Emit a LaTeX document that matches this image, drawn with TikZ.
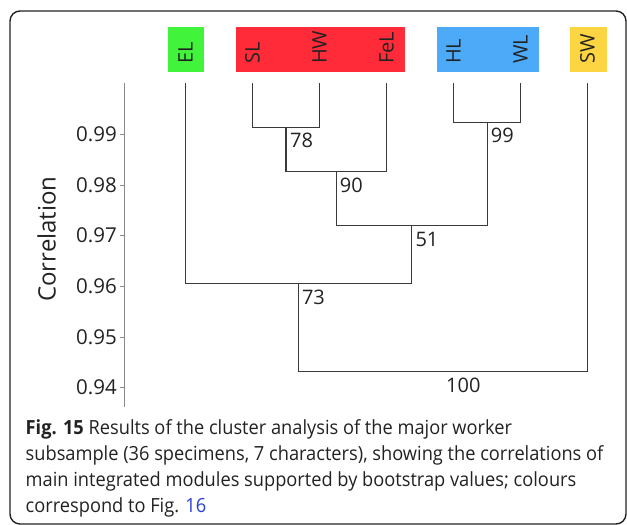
\documentclass[tikz,border=0pt]{standalone}
\usepackage{fontspec}
\setmainfont{Open Sans}
\newfontfamily\capfont[FakeStretch=0.935]{Open Sans}
\definecolor{elgreen}{HTML}{41F43B}
\definecolor{modred}{HTML}{FF2B38}
\definecolor{modblue}{HTML}{4DAAF8}
\definecolor{modyellow}{HTML}{FDD542}
\definecolor{linkblue}{HTML}{2A3FD8}
\definecolor{treegray}{HTML}{3A3A3A}
\definecolor{axisgray}{HTML}{8A8A8A}
\definecolor{txt}{HTML}{222222}
\begin{document}
\begin{tikzpicture}[x=1pt,y=-1pt,
  tree/.style={draw=treegray, line width=1.2pt},
  axisline/.style={draw=axisgray, line width=1pt},
  modbox/.style={draw=none, inner sep=0pt, minimum height=45pt},
  leaflbl/.style={rotate=90, anchor=west, inner sep=0pt, text=txt, font=\fontsize{20}{24}\selectfont},
  ticklbl/.style={anchor=east, inner sep=0pt, text=txt, font=\fontsize{20.5}{24}\selectfont},
  bootlbl/.style={anchor=north west, inner sep=0pt, text=txt, font=\fontsize{20}{24}\selectfont},
  caplbl/.style={anchor=base west, inner sep=0pt, text=txt, font=\capfont\fontsize{19.5}{26}\selectfont},
  frame/.style={draw=txt, line width=1.4pt, rounded corners=10pt}
]
\useasboundingbox (0,0) rectangle (627,525);
\draw[frame] (10,11) rectangle (626,524);

% coloured module boxes
\node[modbox, fill=elgreen, minimum width=36.4pt] (bEL) at (185.8,49.2) {};
\node[modbox, fill=modred, minimum width=168.4pt] (bRed) at (320.6,49.2) {};
\node[modbox, fill=modblue, minimum width=102pt] (bBlue) at (488,49.2) {};
\node[modbox, fill=modyellow, minimum width=37.8pt] (bSW) at (588.4,49.2) {};

\node[leaflbl] (tEL) at (185.5,64) {EL};
\node[leaflbl] (tSL) at (252.5,64) {SL};
\node[leaflbl] (tHW) at (319.5,64) {HW};
\node[leaflbl] (tFeL) at (386.5,64) {FeL};
\node[leaflbl] (tHL) at (453.5,64) {HL};
\node[leaflbl] (tWL) at (520.5,64) {WL};
\node[leaflbl] (tSW) at (587.5,64) {SW};

% axis
\coordinate (axtop) at (124,83);
\coordinate (axbot) at (124,407);
\draw[axisline] (axtop) -- (axbot);
\foreach \v/\y in {99/134.3,98/185,97/235.7,96/286.3,95/337,94/387.7}{
  \coordinate (tk\v) at (124,\y);
  \draw[axisline] (tk\v) -- ++(-4,0);
  \node[ticklbl] (tl\v) at (117,\y) {0.\v};
}
\node[rotate=90, inner sep=0pt, text=txt, font=\fontsize{24}{28}\selectfont] (ylab) at (46.5,239) {Correlation};

% leaves
\coordinate (EL) at (185.2,83);
\coordinate (SL) at (252.4,83);
\coordinate (HW) at (319.6,83);
\coordinate (FeL) at (386.6,83);
\coordinate (HL) at (453.5,83);
\coordinate (WL) at (520.7,83);
\coordinate (SW) at (587.4,83);
% junctions
\coordinate (j78) at (286,127.3);
\coordinate (j90) at (336.2,171.3);
\coordinate (j99) at (487.2,122.3);
\coordinate (j51) at (411.8,225.3);
\coordinate (j73) at (298.3,283.3);
\coordinate (root) at (443,371.7);

\draw[tree] (SL) |- (j78) -| (HW);
\draw[tree] (j78) |- (j90) -| (FeL);
\draw[tree] (HL) |- (j99) -| (WL);
\draw[tree] (j90) |- (j51) -| (j99);
\draw[tree] (EL) |- (j73) -| (j51);
\draw[tree] (j73) |- (root) -| (SW);

\node[bootlbl] (b78) at ([xshift=4pt,yshift=-6pt]j78) {78};
\node[bootlbl] (b90) at ([xshift=3.5pt,yshift=-6.5pt]j90) {90};
\node[bootlbl] (b99) at ([xshift=3.5pt,yshift=-6pt]j99) {99};
\node[bootlbl] (b51) at ([xshift=3.5pt,yshift=-6.5pt]j51) {51};
\node[bootlbl] (b73) at ([xshift=3.5pt,yshift=-6.5pt]j73) {73};
\node[bootlbl, anchor=north] (b100) at (463.3,377.5) {100};

% caption
\node[caplbl] (cap1) at (25.5,434) {\textbf{Fig. 15} Results of the cluster analysis of the major worker};
\node[caplbl] (cap2) at (25.5,460.5) {subsample (36 specimens, 7 characters), showing the correlations of};
\node[caplbl] (cap3) at (25.5,486.5) {main integrated modules supported by bootstrap values; colours};
\node[caplbl] (cap4) at (25.5,512.5) {correspond to Fig. \textcolor{linkblue}{16}};
\end{tikzpicture}
\end{document}
